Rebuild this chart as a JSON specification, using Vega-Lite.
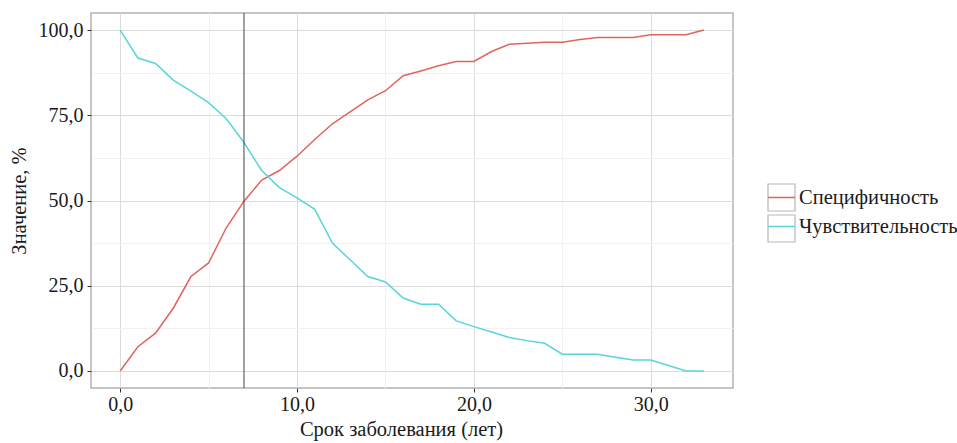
{
  "$schema": "https://vega.github.io/schema/vega-lite/v6.json",
  "width": 642,
  "height": 375,
  "autosize": {"type": "none"},
  "padding": {"left": 91, "top": 13, "right": 224, "bottom": 55},
  "background": "white",
  "config": {
    "font": "Liberation Serif",
    "view": {"stroke": "#b3b3b3", "strokeWidth": 1.5},
    "axis": {
      "domain": false,
      "labelFont": "Liberation Serif",
      "labelFontSize": 20,
      "labelColor": "#1a1a1a",
      "titleFont": "Liberation Serif",
      "titleFontSize": 20.5,
      "titleFontWeight": "normal",
      "titleColor": "#1a1a1a",
      "tickSize": 4,
      "tickWidth": 1,
      "gridWidth": 1
    }
  },
  "datasets": {
    "curves": [
      {"year": 0, "series": "Специфичность", "value": 0},
      {"year": 1, "series": "Специфичность", "value": 7.1},
      {"year": 2, "series": "Специфичность", "value": 11.1},
      {"year": 3, "series": "Специфичность", "value": 18.4},
      {"year": 4, "series": "Специфичность", "value": 27.7},
      {"year": 5, "series": "Специфичность", "value": 31.7},
      {"year": 6, "series": "Специфичность", "value": 42.0},
      {"year": 7, "series": "Специфичность", "value": 49.8},
      {"year": 8, "series": "Специфичность", "value": 56.0},
      {"year": 9, "series": "Специфичность", "value": 58.8},
      {"year": 10, "series": "Специфичность", "value": 63.0},
      {"year": 11, "series": "Специфичность", "value": 67.9},
      {"year": 12, "series": "Специфичность", "value": 72.5},
      {"year": 13, "series": "Специфичность", "value": 76.0},
      {"year": 14, "series": "Специфичность", "value": 79.5},
      {"year": 15, "series": "Специфичность", "value": 82.2},
      {"year": 16, "series": "Специфичность", "value": 86.6},
      {"year": 17, "series": "Специфичность", "value": 88.0},
      {"year": 18, "series": "Специфичность", "value": 89.5},
      {"year": 19, "series": "Специфичность", "value": 90.8},
      {"year": 20, "series": "Специфичность", "value": 90.8},
      {"year": 21, "series": "Специфичность", "value": 93.7},
      {"year": 22, "series": "Специфичность", "value": 95.8},
      {"year": 23, "series": "Специфичность", "value": 96.1},
      {"year": 24, "series": "Специфичность", "value": 96.4},
      {"year": 25, "series": "Специфичность", "value": 96.4},
      {"year": 26, "series": "Специфичность", "value": 97.2},
      {"year": 27, "series": "Специфичность", "value": 97.8},
      {"year": 28, "series": "Специфичность", "value": 97.8},
      {"year": 29, "series": "Специфичность", "value": 97.8},
      {"year": 30, "series": "Специфичность", "value": 98.6},
      {"year": 31, "series": "Специфичность", "value": 98.6},
      {"year": 32, "series": "Специфичность", "value": 98.6},
      {"year": 33, "series": "Специфичность", "value": 100},
      {"year": 0, "series": "Чувствительность", "value": 100},
      {"year": 1, "series": "Чувствительность", "value": 91.8},
      {"year": 2, "series": "Чувствительность", "value": 90.2},
      {"year": 3, "series": "Чувствительность", "value": 85.3},
      {"year": 4, "series": "Чувствительность", "value": 82.1},
      {"year": 5, "series": "Чувствительность", "value": 78.7},
      {"year": 6, "series": "Чувствительность", "value": 74.0},
      {"year": 7, "series": "Чувствительность", "value": 67.0},
      {"year": 8, "series": "Чувствительность", "value": 58.8},
      {"year": 9, "series": "Чувствительность", "value": 53.8},
      {"year": 10, "series": "Чувствительность", "value": 50.8},
      {"year": 11, "series": "Чувствительность", "value": 47.4},
      {"year": 12, "series": "Чувствительность", "value": 37.5},
      {"year": 13, "series": "Чувствительность", "value": 32.6},
      {"year": 14, "series": "Чувствительность", "value": 27.7},
      {"year": 15, "series": "Чувствительность", "value": 26.1},
      {"year": 16, "series": "Чувствительность", "value": 21.4},
      {"year": 17, "series": "Чувствительность", "value": 19.6},
      {"year": 18, "series": "Чувствительность", "value": 19.6},
      {"year": 19, "series": "Чувствительность", "value": 14.7},
      {"year": 20, "series": "Чувствительность", "value": 13.0},
      {"year": 21, "series": "Чувствительность", "value": 11.4},
      {"year": 22, "series": "Чувствительность", "value": 9.8},
      {"year": 23, "series": "Чувствительность", "value": 8.9},
      {"year": 24, "series": "Чувствительность", "value": 8.1},
      {"year": 25, "series": "Чувствительность", "value": 4.9},
      {"year": 26, "series": "Чувствительность", "value": 4.9},
      {"year": 27, "series": "Чувствительность", "value": 4.9},
      {"year": 28, "series": "Чувствительность", "value": 4.0},
      {"year": 29, "series": "Чувствительность", "value": 3.2},
      {"year": 30, "series": "Чувствительность", "value": 3.2},
      {"year": 31, "series": "Чувствительность", "value": 1.6},
      {"year": 32, "series": "Чувствительность", "value": 0},
      {"year": 33, "series": "Чувствительность", "value": 0}
    ],
    "cutoff": [{"year": 7}],
    "keys": [{"key": "box1"}, {"key": "box2"}]
  },
  "layer": [
    {
      "data": {"name": "keys"},
      "mark": {"type": "point", "opacity": 0},
      "encoding": {
        "shape": {
          "field": "key",
          "type": "nominal",
          "scale": {"domain": ["box1", "box2"], "range": ["square", "square"]},
          "legend": {
            "title": null,
            "orient": "none",
            "legendX": 676,
            "legendY": 170,
            "symbolType": "square",
            "symbolSize": 729,
            "symbolFillColor": "white",
            "symbolStrokeColor": "#b8b8b8",
            "symbolStrokeWidth": 1.2,
            "symbolOpacity": 1,
            "labelExpr": "''",
            "labelFontSize": 20.5,
            "labelOffset": 3,
            "rowPadding": -2
          }
        }
      }
    },
    {
      "data": {"name": "curves"},
      "mark": {"type": "line", "strokeWidth": 1.5, "interpolate": "linear"},
      "encoding": {
        "x": {
          "field": "year",
          "type": "quantitative",
          "scale": {"domain": [-1.65, 34.65], "nice": false, "zero": false},
          "axis": {
            "title": "Срок заболевания (лет)",
            "values": [0, 5, 10, 15, 20, 25, 30],
            "labelExpr": "datum.value % 10 === 0 ? replace(format(datum.value, '.1f'), '.', ',') : ''",
            "gridColor": {"condition": {"test": "datum.value % 10 !== 0", "value": "#f1f1f1"}, "value": "#dcdcdc"},
            "tickColor": {"condition": {"test": "datum.value % 10 !== 0", "value": "transparent"}, "value": "#333333"},
            "labelPadding": 2,
            "titlePadding": 5,
            "titleX": 310
          }
        },
        "y": {
          "field": "value",
          "type": "quantitative",
          "scale": {"domain": [-5, 105], "nice": false, "zero": false},
          "axis": {
            "title": "Значение, %",
            "values": [0, 12.5, 25, 37.5, 50, 62.5, 75, 87.5, 100],
            "labelExpr": "datum.value % 25 === 0 ? replace(format(datum.value, '.1f'), '.', ',') : ''",
            "gridColor": {"condition": {"test": "datum.value % 25 !== 0", "value": "#f1f1f1"}, "value": "#dcdcdc"},
            "tickColor": {"condition": {"test": "datum.value % 25 !== 0", "value": "transparent"}, "value": "#333333"},
            "labelPadding": 4,
            "titlePadding": 9
          }
        },
        "color": {
          "field": "series",
          "type": "nominal",
          "scale": {"domain": ["Специфичность", "Чувствительность"], "range": ["#e2645c", "#58d4dc"]},
          "legend": {
            "title": null,
            "orient": "none",
            "legendX": 676,
            "legendY": 170,
            "symbolType": "stroke",
            "symbolSize": 729,
            "symbolStrokeWidth": 1.5,
            "labelFont": "Liberation Serif",
            "labelFontSize": 20.5,
            "labelColor": "#1a1a1a",
            "labelOffset": 3,
            "labelLimit": 300,
            "rowPadding": 4
          }
        }
      }
    },
    {
      "data": {"name": "cutoff"},
      "mark": {"type": "rule", "color": "#444444", "strokeWidth": 1},
      "encoding": {
        "x": {"field": "year", "type": "quantitative"}
      }
    }
  ]
}
